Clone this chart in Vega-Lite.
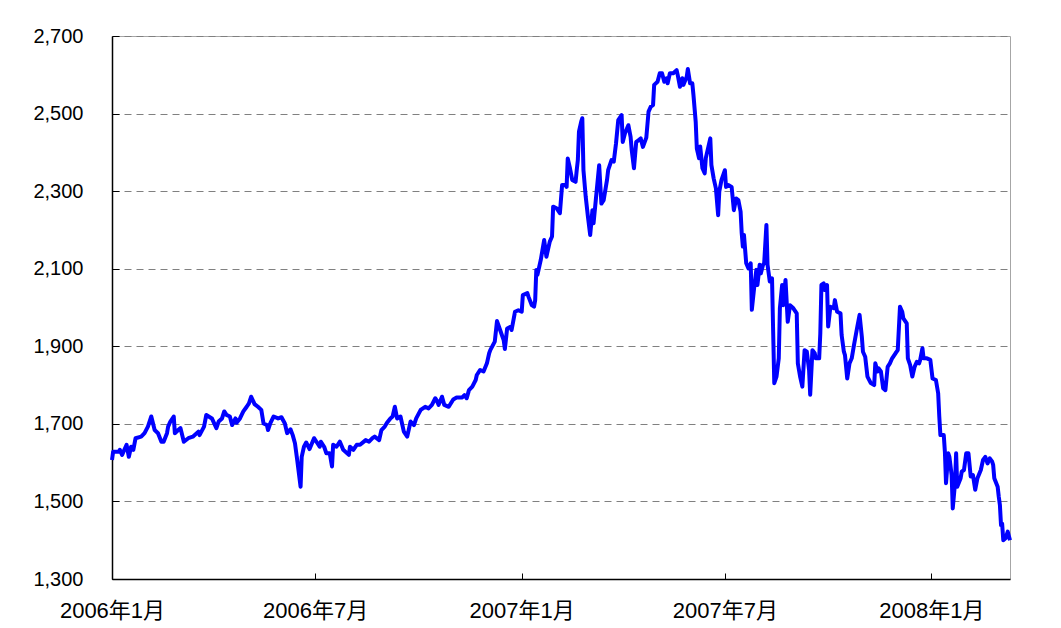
{
  "$schema": "https://vega.github.io/schema/vega-lite/v6.json",
  "width": 898,
  "height": 543,
  "autosize": {"type": "none"},
  "padding": {"left": 112, "top": 36, "right": 51, "bottom": 49},
  "background": "white",
  "config": {"view": {"stroke": "#a6a6a6", "strokeWidth": 1}},
  "data": {"values": [
{"date":"2006-01-04","value":1607},{"date":"2006-01-05","value":1628},{"date":"2006-01-10","value":1628},{"date":"2006-01-11","value":1633},{"date":"2006-01-13","value":1620},{"date":"2006-01-17","value":1646},{"date":"2006-01-19","value":1615},{"date":"2006-01-21","value":1641},{"date":"2006-01-23","value":1633},{"date":"2006-01-25","value":1663},{"date":"2006-01-30","value":1667},
{"date":"2006-02-02","value":1676},{"date":"2006-02-05","value":1693},{"date":"2006-02-08","value":1719},{"date":"2006-02-11","value":1684},{"date":"2006-02-14","value":1676},{"date":"2006-02-17","value":1654},{"date":"2006-02-19","value":1654},{"date":"2006-02-22","value":1676},{"date":"2006-02-23","value":1693},{"date":"2006-02-25","value":1706},{"date":"2006-02-28","value":1719},
{"date":"2006-03-01","value":1676},{"date":"2006-03-04","value":1684},{"date":"2006-03-06","value":1689},{"date":"2006-03-09","value":1654},{"date":"2006-03-13","value":1663},{"date":"2006-03-17","value":1667},{"date":"2006-03-22","value":1680},{"date":"2006-03-23","value":1671},{"date":"2006-03-27","value":1693},{"date":"2006-03-29","value":1723},
{"date":"2006-04-03","value":1714},{"date":"2006-04-07","value":1689},{"date":"2006-04-09","value":1706},{"date":"2006-04-12","value":1714},{"date":"2006-04-14","value":1732},{"date":"2006-04-16","value":1723},{"date":"2006-04-19","value":1719},{"date":"2006-04-21","value":1697},{"date":"2006-04-24","value":1714},{"date":"2006-04-25","value":1703},{"date":"2006-04-28","value":1714},
{"date":"2006-05-01","value":1732},{"date":"2006-05-04","value":1744},{"date":"2006-05-06","value":1753},{"date":"2006-05-08","value":1770},{"date":"2006-05-11","value":1751},{"date":"2006-05-14","value":1744},{"date":"2006-05-17","value":1736},{"date":"2006-05-19","value":1701},{"date":"2006-05-22","value":1697},{"date":"2006-05-23","value":1684},{"date":"2006-05-25","value":1701},{"date":"2006-05-28","value":1719},
{"date":"2006-06-01","value":1714},{"date":"2006-06-04","value":1717},{"date":"2006-06-07","value":1701},{"date":"2006-06-09","value":1676},{"date":"2006-06-12","value":1686},{"date":"2006-06-14","value":1671},{"date":"2006-06-16","value":1650},{"date":"2006-06-18","value":1607},{"date":"2006-06-21","value":1538},{"date":"2006-06-22","value":1615},{"date":"2006-06-24","value":1641},{"date":"2006-06-26","value":1652},{"date":"2006-06-29","value":1635},
{"date":"2006-07-03","value":1663},{"date":"2006-07-06","value":1650},{"date":"2006-07-08","value":1641},{"date":"2006-07-09","value":1654},{"date":"2006-07-12","value":1641},{"date":"2006-07-14","value":1624},{"date":"2006-07-17","value":1624},{"date":"2006-07-19","value":1590},{"date":"2006-07-20","value":1646},{"date":"2006-07-23","value":1641},{"date":"2006-07-26","value":1654},{"date":"2006-07-29","value":1633},
{"date":"2006-08-03","value":1620},{"date":"2006-08-04","value":1641},{"date":"2006-08-07","value":1633},{"date":"2006-08-10","value":1646},{"date":"2006-08-13","value":1646},{"date":"2006-08-18","value":1658},{"date":"2006-08-21","value":1654},{"date":"2006-08-24","value":1663},{"date":"2006-08-26","value":1667},{"date":"2006-08-30","value":1658},
{"date":"2006-09-01","value":1684},{"date":"2006-09-04","value":1693},{"date":"2006-09-06","value":1703},{"date":"2006-09-09","value":1714},{"date":"2006-09-11","value":1719},{"date":"2006-09-13","value":1744},{"date":"2006-09-15","value":1714},{"date":"2006-09-18","value":1719},{"date":"2006-09-21","value":1680},{"date":"2006-09-24","value":1667},{"date":"2006-09-27","value":1706},{"date":"2006-09-30","value":1697},
{"date":"2006-10-02","value":1714},{"date":"2006-10-06","value":1736},{"date":"2006-10-10","value":1744},{"date":"2006-10-13","value":1740},{"date":"2006-10-16","value":1749},{"date":"2006-10-19","value":1766},{"date":"2006-10-20","value":1762},{"date":"2006-10-22","value":1749},{"date":"2006-10-25","value":1770},{"date":"2006-10-27","value":1749},{"date":"2006-10-31","value":1744},
{"date":"2006-11-04","value":1763},{"date":"2006-11-07","value":1768},{"date":"2006-11-12","value":1768},{"date":"2006-11-14","value":1774},{"date":"2006-11-16","value":1766},{"date":"2006-11-18","value":1787},{"date":"2006-11-21","value":1796},{"date":"2006-11-24","value":1813},{"date":"2006-11-25","value":1826},{"date":"2006-11-28","value":1839},
{"date":"2006-12-01","value":1835},{"date":"2006-12-04","value":1856},{"date":"2006-12-06","value":1882},{"date":"2006-12-07","value":1890},{"date":"2006-12-09","value":1901},{"date":"2006-12-11","value":1912},{"date":"2006-12-13","value":1965},{"date":"2006-12-16","value":1940},{"date":"2006-12-19","value":1915},{"date":"2006-12-20","value":1893},{"date":"2006-12-22","value":1946},{"date":"2006-12-25","value":1950},{"date":"2006-12-26","value":1942},{"date":"2006-12-29","value":1989},
{"date":"2007-01-01","value":1993},{"date":"2007-01-04","value":1989},{"date":"2007-01-05","value":2032},{"date":"2007-01-09","value":2037},{"date":"2007-01-10","value":2028},{"date":"2007-01-13","value":2006},{"date":"2007-01-15","value":2002},{"date":"2007-01-16","value":2019},{"date":"2007-01-17","value":2097},{"date":"2007-01-18","value":2084},{"date":"2007-01-21","value":2123},{"date":"2007-01-24","value":2174},{"date":"2007-01-26","value":2131},{"date":"2007-01-29","value":2170},{"date":"2007-01-31","value":2183},
{"date":"2007-02-01","value":2260},{"date":"2007-02-04","value":2256},{"date":"2007-02-07","value":2243},{"date":"2007-02-09","value":2316},{"date":"2007-02-12","value":2316},{"date":"2007-02-13","value":2311},{"date":"2007-02-14","value":2384},{"date":"2007-02-16","value":2359},{"date":"2007-02-18","value":2329},{"date":"2007-02-21","value":2324},{"date":"2007-02-22","value":2354},{"date":"2007-02-23","value":2380},{"date":"2007-02-24","value":2453},{"date":"2007-02-26","value":2479},{"date":"2007-02-27","value":2488},{"date":"2007-02-28","value":2354},
{"date":"2007-03-02","value":2286},{"date":"2007-03-04","value":2234},{"date":"2007-03-06","value":2187},{"date":"2007-03-08","value":2251},{"date":"2007-03-09","value":2217},{"date":"2007-03-11","value":2277},{"date":"2007-03-14","value":2367},{"date":"2007-03-16","value":2268},{"date":"2007-03-18","value":2277},{"date":"2007-03-21","value":2329},{"date":"2007-03-22","value":2354},{"date":"2007-03-25","value":2380},{"date":"2007-03-27","value":2376},{"date":"2007-03-29","value":2423},{"date":"2007-03-31","value":2483},
{"date":"2007-04-03","value":2496},{"date":"2007-04-04","value":2427},{"date":"2007-04-06","value":2449},{"date":"2007-04-09","value":2470},{"date":"2007-04-11","value":2440},{"date":"2007-04-12","value":2406},{"date":"2007-04-14","value":2359},{"date":"2007-04-16","value":2427},{"date":"2007-04-18","value":2431},{"date":"2007-04-20","value":2436},{"date":"2007-04-22","value":2414},{"date":"2007-04-25","value":2438},{"date":"2007-04-27","value":2505},{"date":"2007-04-29","value":2518},
{"date":"2007-05-01","value":2522},{"date":"2007-05-02","value":2574},{"date":"2007-05-05","value":2582},{"date":"2007-05-07","value":2604},{"date":"2007-05-09","value":2604},{"date":"2007-05-11","value":2582},{"date":"2007-05-13","value":2591},{"date":"2007-05-14","value":2578},{"date":"2007-05-16","value":2604},{"date":"2007-05-19","value":2604},{"date":"2007-05-22","value":2612},{"date":"2007-05-23","value":2599},{"date":"2007-05-25","value":2569},{"date":"2007-05-27","value":2591},{"date":"2007-05-28","value":2574},{"date":"2007-05-31","value":2595},
{"date":"2007-06-01","value":2615},{"date":"2007-06-03","value":2578},{"date":"2007-06-05","value":2578},{"date":"2007-06-06","value":2548},{"date":"2007-06-08","value":2479},{"date":"2007-06-09","value":2410},{"date":"2007-06-11","value":2385},{"date":"2007-06-12","value":2415},{"date":"2007-06-14","value":2359},{"date":"2007-06-16","value":2346},{"date":"2007-06-17","value":2385},{"date":"2007-06-21","value":2436},{"date":"2007-06-22","value":2367},{"date":"2007-06-24","value":2333},{"date":"2007-06-26","value":2307},{"date":"2007-06-28","value":2238},{"date":"2007-06-29","value":2299},
{"date":"2007-07-01","value":2329},{"date":"2007-07-04","value":2354},{"date":"2007-07-05","value":2311},{"date":"2007-07-07","value":2316},{"date":"2007-07-10","value":2311},{"date":"2007-07-12","value":2251},{"date":"2007-07-14","value":2281},{"date":"2007-07-16","value":2277},{"date":"2007-07-18","value":2247},{"date":"2007-07-19","value":2191},{"date":"2007-07-20","value":2157},{"date":"2007-07-21","value":2187},{"date":"2007-07-23","value":2114},{"date":"2007-07-25","value":2101},{"date":"2007-07-27","value":2114},{"date":"2007-07-28","value":1994},{"date":"2007-07-30","value":2049},
{"date":"2007-08-01","value":2097},{"date":"2007-08-02","value":2058},{"date":"2007-08-04","value":2110},{"date":"2007-08-05","value":2088},{"date":"2007-08-07","value":2110},{"date":"2007-08-08","value":2114},{"date":"2007-08-10","value":2213},{"date":"2007-08-11","value":2110},{"date":"2007-08-13","value":2067},{"date":"2007-08-15","value":2075},{"date":"2007-08-16","value":1938},{"date":"2007-08-17","value":1805},{"date":"2007-08-19","value":1822},{"date":"2007-08-21","value":1869},{"date":"2007-08-22","value":1998},{"date":"2007-08-24","value":2058},{"date":"2007-08-25","value":2006},{"date":"2007-08-27","value":2071},{"date":"2007-08-29","value":1963},{"date":"2007-08-31","value":2006},
{"date":"2007-09-03","value":1998},{"date":"2007-09-06","value":1985},{"date":"2007-09-07","value":1856},{"date":"2007-09-09","value":1822},{"date":"2007-09-11","value":1796},{"date":"2007-09-13","value":1890},{"date":"2007-09-15","value":1886},{"date":"2007-09-17","value":1839},{"date":"2007-09-18","value":1775},{"date":"2007-09-20","value":1890},{"date":"2007-09-22","value":1882},{"date":"2007-09-23","value":1869},{"date":"2007-09-26","value":1869},{"date":"2007-09-27","value":1933},{"date":"2007-09-28","value":2058},{"date":"2007-09-30","value":2062},
{"date":"2007-10-01","value":2045},{"date":"2007-10-03","value":2058},{"date":"2007-10-04","value":1951},{"date":"2007-10-06","value":2002},{"date":"2007-10-09","value":1998},{"date":"2007-10-10","value":2019},{"date":"2007-10-12","value":1989},{"date":"2007-10-15","value":1985},{"date":"2007-10-16","value":1929},{"date":"2007-10-18","value":1886},{"date":"2007-10-19","value":1877},{"date":"2007-10-21","value":1817},{"date":"2007-10-23","value":1856},{"date":"2007-10-25","value":1869},{"date":"2007-10-27","value":1903},{"date":"2007-10-30","value":1951},
{"date":"2007-11-01","value":1981},{"date":"2007-11-03","value":1925},{"date":"2007-11-04","value":1886},{"date":"2007-11-06","value":1873},{"date":"2007-11-08","value":1822},{"date":"2007-11-11","value":1805},{"date":"2007-11-14","value":1800},{"date":"2007-11-15","value":1856},{"date":"2007-11-17","value":1835},{"date":"2007-11-18","value":1843},{"date":"2007-11-20","value":1835},{"date":"2007-11-22","value":1792},{"date":"2007-11-24","value":1787},{"date":"2007-11-26","value":1847},{"date":"2007-11-28","value":1856},{"date":"2007-11-30","value":1869},
{"date":"2007-12-03","value":1882},{"date":"2007-12-05","value":1890},{"date":"2007-12-07","value":2002},{"date":"2007-12-09","value":1989},{"date":"2007-12-10","value":1972},{"date":"2007-12-13","value":1959},{"date":"2007-12-14","value":1869},{"date":"2007-12-16","value":1852},{"date":"2007-12-18","value":1822},{"date":"2007-12-20","value":1847},{"date":"2007-12-22","value":1860},{"date":"2007-12-24","value":1856},{"date":"2007-12-25","value":1865},{"date":"2007-12-27","value":1895},{"date":"2007-12-28","value":1869},{"date":"2007-12-31","value":1869},
{"date":"2008-01-03","value":1865},{"date":"2008-01-05","value":1817},{"date":"2008-01-08","value":1813},{"date":"2008-01-10","value":1779},{"date":"2008-01-11","value":1719},{"date":"2008-01-12","value":1671},{"date":"2008-01-15","value":1671},{"date":"2008-01-16","value":1628},{"date":"2008-01-17","value":1547},{"date":"2008-01-19","value":1624},{"date":"2008-01-20","value":1615},{"date":"2008-01-22","value":1568},{"date":"2008-01-23","value":1482},{"date":"2008-01-25","value":1547},{"date":"2008-01-26","value":1624},{"date":"2008-01-27","value":1538},{"date":"2008-01-30","value":1560},{"date":"2008-01-31","value":1577},
{"date":"2008-02-02","value":1581},{"date":"2008-02-04","value":1624},{"date":"2008-02-06","value":1624},{"date":"2008-02-08","value":1564},{"date":"2008-02-10","value":1568},{"date":"2008-02-12","value":1530},{"date":"2008-02-14","value":1560},{"date":"2008-02-17","value":1581},{"date":"2008-02-19","value":1607},{"date":"2008-02-21","value":1615},{"date":"2008-02-23","value":1598},{"date":"2008-02-25","value":1611},{"date":"2008-02-27","value":1603},{"date":"2008-02-28","value":1594},{"date":"2008-02-29","value":1560},
{"date":"2008-03-03","value":1538},{"date":"2008-03-04","value":1512},{"date":"2008-03-05","value":1491},{"date":"2008-03-06","value":1439},{"date":"2008-03-07","value":1443},{"date":"2008-03-08","value":1400},{"date":"2008-03-10","value":1405},{"date":"2008-03-12","value":1422},{"date":"2008-03-14","value":1400}
  ]},
  "mark": {"type": "line", "color": "#0000ff", "strokeWidth": 4, "strokeJoin": "round"},
  "encoding": {
    "x": {
      "field": "date",
      "type": "temporal",
      "scale": {"type": "utc", "domain": [{"year": 2006, "month": 1, "date": 4, "utc": true}, {"year": 2008, "month": 3, "date": 14, "utc": true}]},
      "axis": {
        "title": null,
        "values": [
          {"year": 2006, "month": 1, "date": 4, "utc": true},
          {"year": 2006, "month": 7, "date": 4, "utc": true},
          {"year": 2007, "month": 1, "date": 4, "utc": true},
          {"year": 2007, "month": 7, "date": 4, "utc": true},
          {"year": 2008, "month": 1, "date": 4, "utc": true}
        ],
        "labelExpr": "utcFormat(datum.value, '%Y年%-m月')",
        "labelFont": "Liberation Sans, Noto Sans CJK JP",
        "labelFontSize": 22,
        "labelColor": "#000000",
        "labelFlush": false,
        "labelOverlap": false,
        "labelPadding": 27,
        "domainColor": "#000000",
        "domainWidth": 1.5,
        "tickColor": "#000000",
        "tickSize": -6,
        "tickWidth": 1,
        "grid": false
      }
    },
    "y": {
      "field": "value",
      "type": "quantitative",
      "scale": {"domain": [1300, 2700], "nice": false, "zero": false},
      "axis": {
        "title": null,
        "values": [1300, 1500, 1700, 1900, 2100, 2300, 2500, 2700],
        "labelExpr": "format(datum.value, ',')",
        "labelFont": "Liberation Sans",
        "labelFontSize": 20,
        "labelColor": "#000000",
        "labelPadding": 36,
        "domainColor": "#000000",
        "domainWidth": 1.5,
        "tickColor": "#000000",
        "tickSize": -7,
        "tickWidth": 1,
        "grid": true,
        "gridColor": "#808080",
        "gridDash": [7, 5],
        "gridWidth": 1,
        "gridOpacity": {"condition": {"test": "datum.value === 1300", "value": 0}, "value": 1}
      }
    }
  }
}
